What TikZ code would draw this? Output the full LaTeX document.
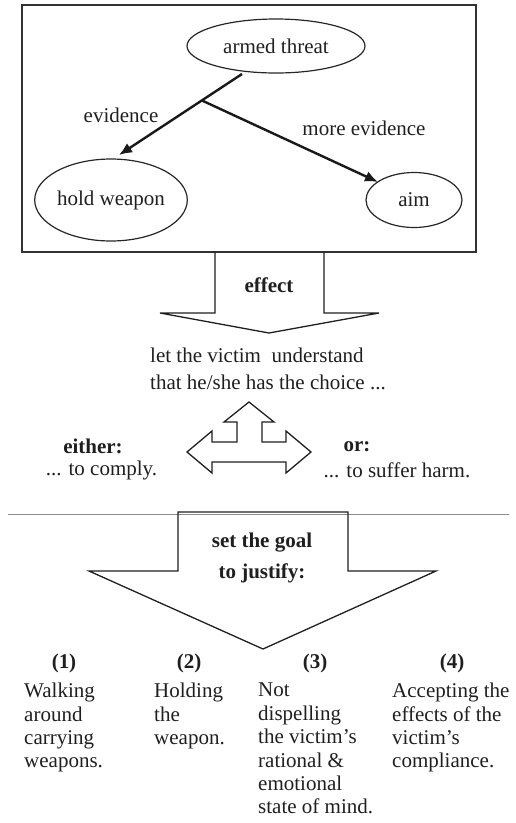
\documentclass[tikz,border=0pt]{standalone}
\usepackage{fontspec}
\setmainfont{Liberation Serif}
\usetikzlibrary{shapes.geometric,arrows.meta}
\begin{document}
\begin{tikzpicture}[x=1pt,y=-1pt,
  every node/.style={font=\fontsize{21}{23.4}\selectfont, text=black!88, inner sep=0pt},
  oval/.style={ellipse, draw=black!85, line width=1.2pt},
  outline/.style={draw=black!88, line width=1.3pt, line join=miter},
  evid/.style={draw=black!90, line width=2.4pt, -{Latex[length=13pt,width=11pt]}},
  lbl/.style={font=\fontsize{21}{23.4}\selectfont},
  bold/.style={font=\fontsize{21}{23.4}\selectfont\bfseries},
  col/.style={align=left, anchor=north west, font=\fontsize{21}{23.4}\selectfont}]
\useasboundingbox (0,0) rectangle (515,823);

% upper frame with the threat graph
\draw[draw=black!80, line width=1.4pt] (22,5) rectangle (476,252);
\node[oval, minimum width=178pt, minimum height=54pt] (threat) at (276,46) {armed threat};
\node[oval, minimum width=151pt, minimum height=82pt] (hold) at (111,200) {hold weapon};
\node[oval, minimum width=96pt, minimum height=55pt] (aim) at (414,200) {aim};
\coordinate (src) at (242,74);
\coordinate (fork) at (202,100.5);
\coordinate (holdtip) at (119,155);
\coordinate (aimtip) at (378,182);
\draw[evid] (src) -- (holdtip);
\draw[evid] (fork) -- (aimtip);
\node[lbl] (ev) at (121,115) {evidence};
\node[lbl] (mev) at (364,128) {more evidence};

% "effect" block arrow
\draw[outline] (215,252) -- (215,313) -- (160,313) -- (269,333) -- (379,313) -- (324,313) -- (324,252);
\node[bold] (effect) at (269,285) {effect};

\node[lbl, anchor=west] (und1) at (150,355) {let the victim\ \ understand};
\node[lbl, anchor=west] (und2) at (150,382) {that he/she has the choice ...};

% three-way arrow
\draw[outline] (249,402) -- (274,422) -- (262,422) -- (262,442) -- (286,442) -- (286,431)
  -- (311,452) -- (286,473) -- (286,462) -- (212,462) -- (212,473) -- (187,452)
  -- (212,431) -- (212,442) -- (237,442) -- (237,422) -- (224,422) -- cycle;

\node[bold] (either) at (93,446) {either:};
\node[lbl] (comply) at (101.5,470) {... to comply.};
\node[bold] (or) at (357,447) {or:};
\node[lbl] (harm) at (397,470) {... to suffer harm.};

% separating rule
\draw[black!45, line width=1pt] (8,514) -- (509,514);

% "set the goal" block arrow
\draw[outline] (178,512) -- (348,512) -- (348,571) -- (436,571) -- (263,649) -- (89,571) -- (178,571) -- cycle;
\node[bold] (goal1) at (262,543) {set the goal};
\node[bold] (goal2) at (262,573) {to justify:};

% the four goals
\node[bold] (n1) at (64,663) {(1)};
\node[bold] (n2) at (189,663) {(2)};
\node[bold] (n3) at (315,663) {(3)};
\node[bold] (n4) at (452,663) {(4)};
\node[col] (c1) at (24,683) {Walking\\around\\carrying\\weapons.};
\node[col] (c2) at (154,683) {Holding\\the\\weapon.};
\node[col] (c3) at (258,683) {Not\\dispelling\\the victim’s\\rational \&\\emotional\\state of mind.};
\node[col] (c4) at (392,683) {Accepting the\\effects of the\\victim’s\\compliance.};
\end{tikzpicture}
\end{document}
